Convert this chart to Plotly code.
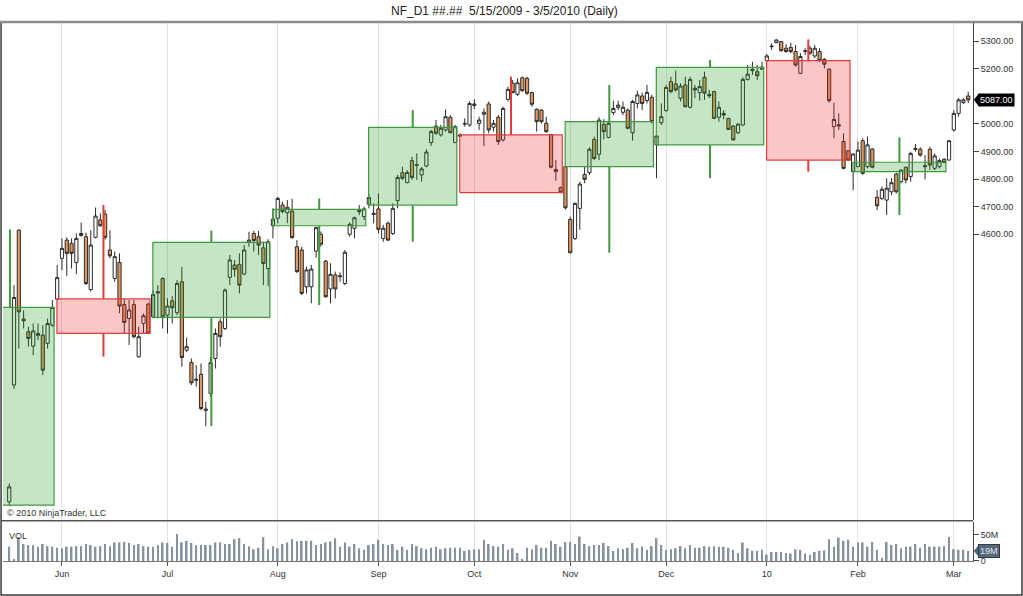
import plotly.graph_objects as go

# daily bars, 5/15/2009 .. 3/5/2010 (bar index 0..200)
opens = [3631, 4054, 4615, 4293, 4247, 4195, 4241, 4235, 4205, 4271,
         4365, 4513, 4579, 4567, 4498, 4603, 4591, 4400, 4589, 4652,
         4673, 4543, 4440, 4498, 4346, 4295, 4346, 4156, 4277, 4347,
         4301, 4392, 4440, 4307, 4359, 4316, 4428, 4180, 4136, 4075,
         4093, 3967, 4023, 4150, 4283, 4259, 4444, 4489, 4491, 4456,
         4572, 4603, 4591, 4551, 4476, 4631, 4658, 4706, 4678, 4684,
         4555, 4543, 4410, 4410, 4539, 4600, 4503, 4402, 4453, 4450,
         4422, 4600, 4622, 4686, 4664, 4709, 4676, 4692, 4585, 4640,
         4603, 4722, 4823, 4787, 4867, 4852, 4815, 4847, 4932, 4992,
         4960, 4978, 5024, 4932, 4960, 5002, 4996, 5072, 5002, 5035,
         5072, 4988, 5024, 4942, 5089, 5147, 5107, 5167, 5165, 5113,
         5053, 5050, 5002, 4961, 4827, 4769, 4845, 4654, 4585, 4694,
         4817, 4823, 4944, 4890, 4998, 4951, 5041, 5060, 5042, 5050,
         4968, 5074, 5101, 5084, 5096, 4924, 5004, 5048, 5153, 5145,
         5093, 5141, 5060, 5129, 5113, 5169, 5107, 5117, 5024, 5038,
         5020, 4992, 4968, 4996, 5161, 5198, 5189, 5198, 5229, 5282,
         5294, 5298, 5274, 5277, 5262, 5183, 5265, 5274, 5246, 5262,
         5234, 5198, 4990, 4997, 4936, 4903, 4827, 4845, 4939, 4845,
         4909, 4734, 4730, 4724, 4754, 4818, 4791, 4843, 4809, 4911,
         4908, 4849, 4908, 4839, 4845, 4872, 4869, 4978, 5038, 5077,
         5101]
highs = [3697, 4416, 4618, 4325, 4265, 4277, 4277, 4271, 4295, 4362,
         4489, 4585, 4589, 4585, 4603, 4642, 4606, 4615, 4697, 4676,
         4688, 4615, 4537, 4531, 4368, 4362, 4362, 4265, 4313, 4352,
         4398, 4416, 4444, 4368, 4377, 4434, 4482, 4226, 4150, 4126,
         4132, 3993, 4156, 4259, 4295, 4404, 4525, 4507, 4531, 4561,
         4609, 4613, 4612, 4573, 4582, 4694, 4736, 4718, 4724, 4728,
         4579, 4555, 4483, 4489, 4628, 4610, 4507, 4495, 4465, 4462,
         4543, 4643, 4664, 4706, 4700, 4745, 4712, 4748, 4634, 4646,
         4712, 4815, 4845, 4833, 4881, 4893, 4843, 4908, 4978, 5014,
         4996, 5053, 5032, 4996, 4966, 5020, 5081, 5089, 5026, 5056,
         5081, 5014, 5032, 5062, 5135, 5159, 5165, 5171, 5171, 5117,
         5056, 5053, 5026, 4963, 4869, 4773, 4847, 4664, 4715, 4791,
         4845, 4915, 4954, 5024, 5017, 5008, 5084, 5084, 5081, 5056,
         5087, 5120, 5113, 5141, 5105, 4956, 5074, 5141, 5171, 5193,
         5147, 5171, 5171, 5141, 5159, 5189, 5123, 5120, 5081, 5050,
         5022, 4996, 5002, 5169, 5213, 5225, 5213, 5225, 5253, 5292,
         5306, 5300, 5289, 5294, 5286, 5256, 5274, 5283, 5286, 5274,
         5238, 5201, 5077, 5038, 4966, 4905, 4893, 4936, 4948, 4954,
         4912, 4760, 4773, 4803, 4803, 4823, 4833, 4845, 4899, 4927,
         4915, 4887, 4917, 4893, 4875, 4875, 4942, 5050, 5093, 5093,
         5117]
lows = [3619, 4040, 4186, 4259, 4193, 4162, 4217, 4090, 4186, 4265,
        4362, 4470, 4449, 4476, 4456, 4591, 4416, 4392, 4585, 4627,
        4581, 4513, 4428, 4314, 4241, 4199, 4223, 4153, 4241, 4238,
        4295, 4295, 4259, 4241, 4277, 4307, 4120, 4174, 4054, 4048,
        3963, 3905, 4011, 4114, 4193, 4253, 4416, 4446, 4386, 4452,
        4555, 4537, 4525, 4416, 4412, 4585, 4640, 4676, 4640, 4585,
        4459, 4380, 4386, 4350, 4515, 4555, 4370, 4350, 4368, 4428,
        4416, 4591, 4585, 4670, 4652, 4694, 4640, 4603, 4573, 4575,
        4597, 4694, 4797, 4785, 4797, 4797, 4791, 4843, 4920, 4960,
        4954, 4972, 4966, 4932, 4954, 4990, 4990, 5053, 4978, 4920,
        4966, 4972, 4924, 4936, 5081, 5111, 5101, 5117, 5105, 5062,
        4972, 5002, 4968, 4839, 4794, 4751, 4690, 4531, 4579, 4616,
        4785, 4815, 4869, 4869, 4944, 4948, 5032, 5050, 5032, 4980,
        4939, 5056, 5050, 5074, 5002, 4803, 4996, 5044, 5111, 5117,
        5081, 5060, 5056, 5093, 5084, 5087, 5093, 5017, 5008, 5017,
        4978, 4939, 4963, 4992, 5157, 5177, 5159, 5195, 5225, 5268,
        5292, 5262, 5258, 5256, 5207, 5181, 5250, 5250, 5238, 5225,
        5201, 5077, 4948, 4978, 4835, 4867, 4760, 4843, 4815, 4839,
        4839, 4688, 4724, 4670, 4742, 4748, 4785, 4785, 4791, 4899,
        4881, 4799, 4833, 4833, 4839, 4857, 4867, 4972, 5026, 5072,
        5075]
closes = [3685, 4371, 4319, 4287, 4223, 4250, 4234, 4108, 4277, 4335,
          4443, 4549, 4531, 4531, 4585, 4596, 4422, 4561, 4666, 4631,
          4589, 4522, 4519, 4340, 4281, 4326, 4229, 4229, 4305, 4241,
          4382, 4388, 4301, 4340, 4334, 4422, 4154, 4193, 4062, 4072,
          3969, 3963, 4135, 4241, 4229, 4398, 4507, 4473, 4416, 4543,
          4579, 4577, 4561, 4494, 4573, 4655, 4730, 4682, 4698, 4588,
          4465, 4386, 4471, 4474, 4624, 4564, 4374, 4455, 4402, 4447,
          4535, 4636, 4660, 4682, 4692, 4733, 4672, 4618, 4622, 4579,
          4694, 4806, 4803, 4824, 4806, 4850, 4837, 4898, 4972, 4966,
          4984, 5026, 4968, 4990, 4956, 5000, 5074, 5067, 5014, 5042,
          4978, 5002, 4936, 5056, 5125, 5113, 5149, 5120, 5111, 5071,
          5008, 5008, 4972, 4843, 4835, 4752, 4696, 4533, 4712, 4782,
          4799, 4908, 4875, 5014, 4972, 5002, 5056, 5068, 5060, 4984,
          5081, 5105, 5074, 5114, 5008, 4956, 5026, 5132, 5117, 5123,
          5137, 5062, 5161, 5123, 5135, 5111, 5102, 5020, 5060, 5032,
          4980, 4942, 4999, 5161, 5180, 5193, 5174, 5205, 5246, 5280,
          5304, 5265, 5262, 5262, 5213, 5244, 5263, 5256, 5274, 5229,
          5216, 5084, 5016, 4993, 4839, 4869, 4891, 4905, 4821, 4924,
          4843, 4703, 4763, 4767, 4787, 4754, 4833, 4797, 4893, 4908,
          4887, 4845, 4851, 4884, 4867, 4860, 4939, 5038, 5087, 5087,
          5087]
volume = [27, 4, 45, 32, 30, 30, 27, 32, 28, 27,
          25, 24, 27, 27, 28, 28, 32, 30, 27, 28,
          32, 28, 35, 35, 36, 34, 30, 32, 28, 27,
          27, 30, 35, 34, 27, 51, 35, 38, 34, 30,
          30, 30, 30, 35, 35, 32, 32, 41, 43, 32,
          28, 22, 25, 45, 22, 28, 24, 32, 35, 41,
          37, 38, 38, 38, 30, 32, 35, 37, 43, 27,
          35, 27, 32, 24, 21, 30, 32, 40, 32, 30,
          32, 21, 27, 21, 32, 28, 24, 22, 25, 27,
          22, 24, 25, 25, 25, 19, 21, 22, 22, 40,
          32, 28, 27, 32, 21, 24, 15, 4, 25, 22,
          30, 25, 25, 38, 32, 27, 36, 36, 32, 46,
          32, 28, 30, 30, 34, 28, 19, 24, 22, 25,
          34, 24, 27, 21, 28, 43, 30, 21, 22, 24,
          28, 24, 30, 25, 25, 28, 27, 28, 27, 27,
          25, 21, 15, 35, 24, 19, 19, 21, 12, 17,
          17, 17, 15, 14, 22, 21, 14, 12, 17, 19,
          20, 41, 27, 44, 38, 40, 27, 35, 35, 27,
          36, 21, 6, 36, 30, 32, 24, 27, 27, 32,
          25, 32, 27, 27, 27, 28, 45, 22, 21, 21,
          19]  # millions

# monthly candles drawn as boxes (May starts before the first visible bar)
months = ["May", "Jun", "Jul", "Aug", "Sep", "Oct", "Nov", "Dec", "Jan", "Feb"]
m_open = [3619, 4366, 4299, 4631, 4706, 4960, 4845, 4924, 5229, 4827]
m_high = [4618, 4706, 4613, 4730, 5050, 5171, 5141, 5231, 5306, 4951]
m_low = [3615, 4157, 3905, 4344, 4573, 4751, 4533, 4803, 4827, 4670]
m_close = [4335, 4241, 4571, 4690, 4987, 4751, 5008, 5205, 4869, 4861]
m_first_bar = [-9, 10, 30, 55, 75, 94, 116, 135, 158, 176]
m_last_bar = [9, 29, 54, 74, 93, 115, 134, 157, 175, 195]

tick_bars = [11, 33, 56, 77, 97, 117, 137, 158, 177, 197]
tick_text = ["Jun", "Jul", "Aug", "Sep", "Oct", "Nov", "Dec", "10", "Feb", "Mar"]
price_ticks = [4600, 4700, 4800, 4900, 5000, 5200, 5300]  # 5100 is covered by the last-price tag

FONT = "Liberation Sans, Arial, sans-serif"
bars = list(range(len(closes)))

fig = go.Figure()

fig.add_trace(go.Candlestick(
    x=bars, open=opens, high=highs, low=lows, close=closes,
    increasing=dict(line=dict(color="#2b2b2b", width=1), fillcolor="#ffffff"),
    decreasing=dict(line=dict(color="#2b2b2b", width=1), fillcolor="#e3975c"),
    whiskerwidth=0, hoverinfo="skip", showlegend=False,
    xaxis="x", yaxis="y",
))

for i in range(len(months)):
    up = m_close[i] >= m_open[i]
    line_col = "#3f9a3f" if up else "#e03c3c"
    fill_col = "rgba(45,160,45,0.27)" if up else "rgba(240,45,45,0.27)"
    x0 = m_first_bar[i] - 0.05
    x1 = m_last_bar[i] + 0.35
    top = max(m_open[i], m_close[i])
    bot = min(m_open[i], m_close[i])
    fig.add_trace(go.Scatter(
        x=[x0, x1, x1, x0, x0], y=[bot, bot, top, top, bot],
        mode="lines", fill="toself", fillcolor=fill_col,
        line=dict(color=line_col, width=1.2),
        hoverinfo="skip", showlegend=False, xaxis="x", yaxis="y",
    ))
    xc = (x0 + x1) / 2
    fig.add_trace(go.Scatter(
        x=[xc, xc, None, xc, xc], y=[m_high[i], top, None, bot, m_low[i]],
        mode="lines", line=dict(color=line_col, width=2),
        hoverinfo="skip", showlegend=False, xaxis="x", yaxis="y",
    ))

fig.add_trace(go.Bar(
    x=bars, y=volume, width=0.36, marker=dict(color="#86939e", line=dict(width=0)),
    hoverinfo="skip", showlegend=False, xaxis="x2", yaxis="y2",
))

# little pointers on the left of the price / volume tags
last_px = closes[-1]
last_vol = volume[-1]
tag_shapes = [
    dict(type="path", xref="paper", yref="y",
         path="M 1.0008 %f L 1.0062 %f L 1.0062 %f Z" % (last_px, last_px + 24, last_px - 24),
         fillcolor="#000000", line=dict(width=0)),
    dict(type="path", xref="paper", yref="y2",
         path="M 1.0008 %f L 1.0062 %f L 1.0062 %f Z" % (last_vol, last_vol + 12, last_vol - 12),
         fillcolor="#55687a", line=dict(width=0)),
]

grid = "#e2e2e2"
fig.update_layout(
    width=1023, height=596,
    margin=dict(l=3, r=50, t=22, b=35),
    paper_bgcolor="white", plot_bgcolor="white",
    font=dict(family=FONT, size=9, color="#333333"),
    boxgap=0.05,
    xaxis=dict(domain=[0, 1], anchor="y", range=[-1.3, 201], tickvals=tick_bars,
               showticklabels=False, ticks="", showgrid=True, gridcolor=grid,
               zeroline=False, showline=False, rangeslider=dict(visible=False)),
    yaxis=dict(domain=[0.076, 1], anchor="x", side="right", range=[3565, 5369],
               tickvals=price_ticks, ticktext=["%.2f" % p for p in price_ticks],
               ticks="outside", ticklen=5, tickcolor="#444444",
               showgrid=False, zeroline=False, showline=True, linecolor="#444444",
               linewidth=1, tickfont=dict(size=9, color="#333333")),
    xaxis2=dict(domain=[0, 1], anchor="y2", matches="x", tickvals=tick_bars,
                ticktext=tick_text, ticks="outside", ticklen=4, tickcolor="#555555",
                showgrid=True, gridcolor=grid, zeroline=False, showline=True,
                linecolor="#777777", tickfont=dict(size=9, color="#333333")),
    yaxis2=dict(domain=[0, 0.0724], anchor="x2", side="right", range=[0, 73.5],
                tickvals=[0, 50], ticktext=["0", "50M"], ticks="outside", ticklen=5,
                tickcolor="#444444", showgrid=False, zeroline=False, showline=True,
                linecolor="#444444", tickfont=dict(size=9, color="#333333")),
    shapes=[
        dict(type="rect", xref="paper", yref="paper", x0=-0.002, x1=1.0505,
             y0=-0.063, y1=1.0, line=dict(color="#3a3a3a", width=1.5)),
        dict(type="line", xref="paper", yref="paper", x0=-0.003, x1=1.051,
             y0=1.0, y1=1.0, line=dict(color="#8c8c8c", width=2.5)),
        dict(type="line", xref="paper", yref="paper", x0=-0.002, x1=1.0,
             y0=0.0745, y1=0.0745, line=dict(color="#555555", width=1.5)),
    ] + tag_shapes,
    annotations=[
        dict(text="NF_D1 ##.##  5/15/2009 - 3/5/2010 (Daily)", xref="paper", yref="paper",
             x=0.517, y=1.0, yshift=11, xanchor="center", yanchor="middle",
             showarrow=False, font=dict(size=12, color="#222222")),
        dict(text="\u00a9 2010 NinjaTrader, LLC", xref="paper", yref="paper",
             x=0.002, y=0.089, xanchor="left", yanchor="middle", showarrow=False,
             font=dict(size=9, color="#333333")),
        dict(text="VOL", xref="paper", yref="paper", x=0.004, y=0.046,
             xanchor="left", yanchor="middle", showarrow=False,
             font=dict(size=9, color="#333333")),
        dict(text="%.2f" % last_px, xref="paper", yref="y", x=1.0055, y=last_px,
             xanchor="left", yanchor="middle", showarrow=False, bgcolor="#000000",
             borderpad=1, font=dict(size=9, color="#ffffff")),
        dict(text="%dM" % last_vol, xref="paper", yref="y2", x=1.0055, y=last_vol,
             xanchor="left", yanchor="middle", showarrow=False, bgcolor="#55687a",
             bordercolor="#2e3b47", borderwidth=1, borderpad=1,
             font=dict(size=9, color="#dfe6ee")),
    ],
)

# the page body has a default 8px margin; drop it so the figure fills the window
fig.write_html("out.html", config={"displayModeBar": False},
               post_script="document.body.style.margin='0';")
